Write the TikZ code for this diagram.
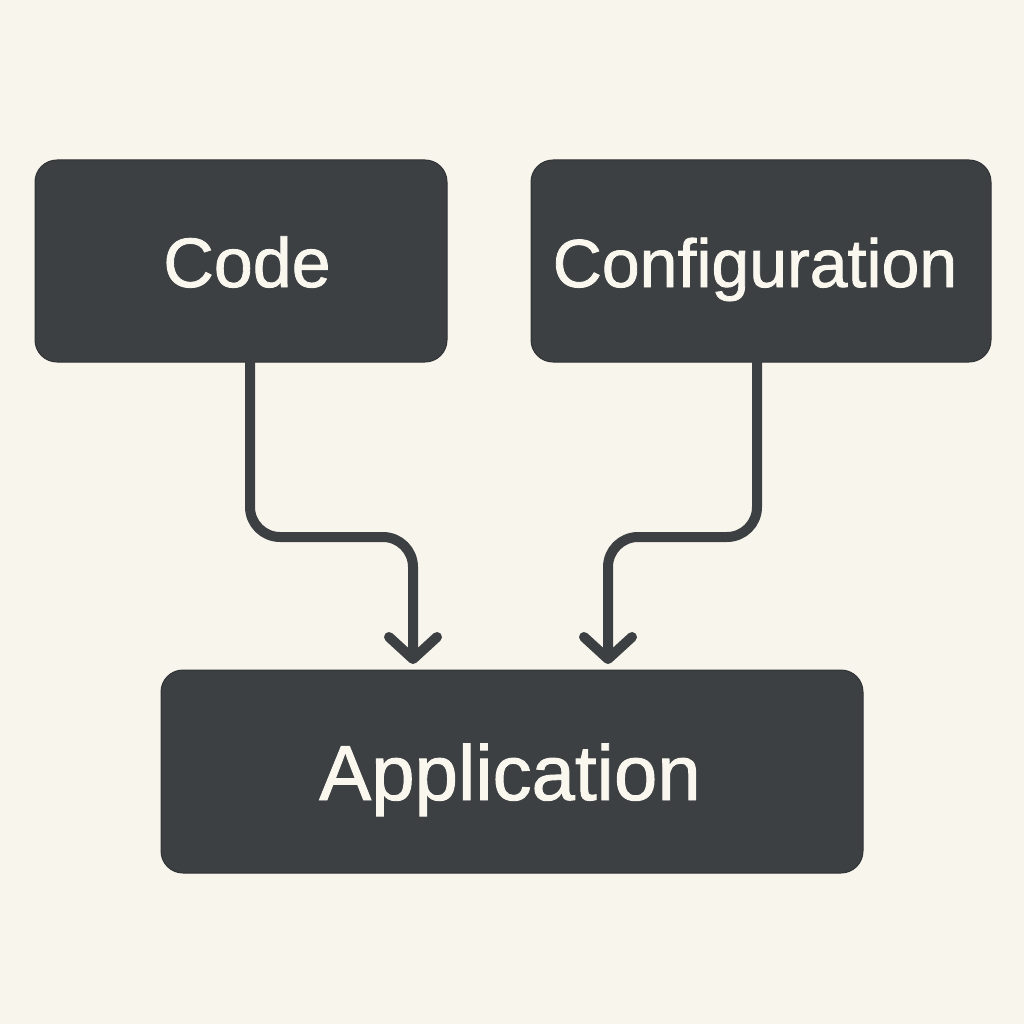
\documentclass[tikz,border=0pt]{standalone}
\usepackage{fontspec}
\setmainfont{Liberation Sans}
\newfontfamily\medfont[FakeBold=1.2]{Liberation Sans}
\usetikzlibrary{arrows.meta}
\definecolor{bg}{HTML}{F8F5EC}
\definecolor{boxc}{HTML}{3C4043}
\definecolor{txt}{HTML}{FAF7EF}
\begin{document}
\begin{tikzpicture}[x=1pt,y=-1pt,
  box/.style={fill=boxc,draw=boxc!80!black,line width=1pt,rounded corners=22pt,inner sep=0pt},
  lbl/.style={text=txt,anchor=base,inner sep=0pt},
  conn/.style={draw=boxc,line width=10pt,rounded corners=30pt,line cap=round,
    -{Straight Barb[length=22pt,width=48pt,line width=10pt,round]}}]
\useasboundingbox[fill=bg] (0,0) rectangle (1024,1024);
\path[box] (35,160) rectangle (447,362);
\path[box] (531,160) rectangle (991,362);
\path[box] (161,670) rectangle (863,873);
\coordinate (codeB) at (250,362);
\coordinate (confB) at (757,362);
\coordinate (appL) at (413,664);
\coordinate (appR) at (608,664);
\node[lbl,font=\medfont\fontsize{70}{80}\selectfont] (code) at (247,287) {Code};
\node[lbl,font=\medfont\fontsize{68}{80}\selectfont] (conf) at (755,287) {Configuration};
\node[lbl,font=\medfont\fontsize{78}{88}\selectfont] (app) at (510,800) {Application};
\draw[conn] (codeB) |- (330,537) -| (appL);
\draw[conn] (confB) |- (680,537) -| (appR);
\end{tikzpicture}
\end{document}
